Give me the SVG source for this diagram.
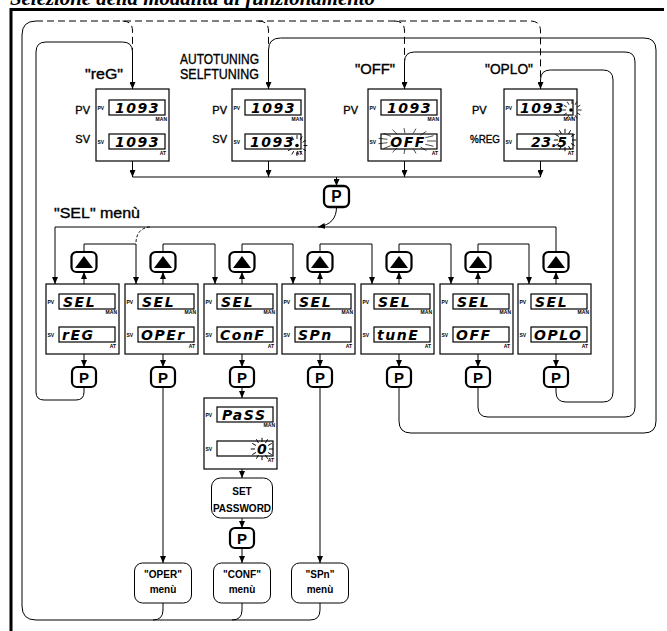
<svg xmlns="http://www.w3.org/2000/svg" xmlns:xlink="http://www.w3.org/1999/xlink" width="667" height="631" viewBox="0 0 667 631">
<style>
.box{fill:#fff;stroke:#000;stroke-width:1.2}
.disp{fill:#fff;stroke:#000;stroke-width:1.2}
.dt{font-family:"DejaVu Sans",sans-serif;font-weight:bold;font-style:italic;font-size:14px;letter-spacing:1.5px;fill:#000}
.tiny{font-family:"Liberation Sans",sans-serif;font-size:5px;font-weight:bold;fill:#000}
.lbl{font-family:"Liberation Sans",sans-serif;font-size:11px;fill:#000;stroke:#000;stroke-width:0.35}
.big{font-family:"Liberation Sans",sans-serif;font-size:14px;fill:#000;stroke:#000;stroke-width:0.35}
.mt{font-family:"Liberation Sans",sans-serif;font-size:10px;font-weight:bold;fill:#000;text-anchor:middle}
.btn{fill:#fff;stroke:#000;stroke-width:2.2}
.pt{font-family:"Liberation Sans",sans-serif;font-weight:bold;font-size:15px;text-anchor:middle;fill:#000}
.c{fill:none;stroke:#000;stroke-width:1}
.a{fill:none;stroke:#000;stroke-width:1;marker-end:url(#ah)}
.dash{fill:none;stroke:#000;stroke-width:1;stroke-dasharray:7 4}
.ray{fill:none;stroke:#000;stroke-width:0.7}
.mb{fill:#fff;stroke:#000;stroke-width:1}
</style>
<defs>
<marker id="ah" viewBox="0 0 7 6" refX="7" refY="3" markerWidth="7" markerHeight="6" markerUnits="userSpaceOnUse" orient="auto"><path d="M0,0 L7,3 L0,6 z" fill="#000"/></marker>
<g id="pb"><rect x="-12" y="0" width="24" height="20" rx="5" class="btn"/><text x="0" y="15.5" class="pt">P</text></g>
<g id="ub"><rect x="-12.5" y="0" width="25" height="20" rx="5" class="btn"/><path d="M-9,16 L9,16 L0,4 z" fill="#000"/></g>
<path id="rays" class="ray" d="M5,0L8,0M4.33,2.5L6.93,4M2.5,4.33L4,6.93M0,5L0,8M-2.5,4.33L-4,6.93M-4.33,2.5L-6.93,4M-5,0L-8,0M-4.33,-2.5L-6.93,-4M-2.5,-4.33L-4,-6.93M0,-5L0,-8M2.5,-4.33L4,-6.93M4.33,-2.5L6.93,-4"/>
</defs>
<rect width="667" height="631" fill="#fff"/>
<text x="10" y="5" font-family="Liberation Serif,serif" font-style="italic" font-weight="bold" font-size="20" textLength="365" lengthAdjust="spacingAndGlyphs">Selezione della modalità di funzionamento</text>
<path d="M11,631 V9.5 H664" fill="none" stroke="#000" stroke-width="3"/>

<g id="connectors">
<path class="c" d="M84,387 V392 Q84,400 76,400 H44 Q36,400 36,392 V52 Q36,42 46,42 H122.5 Q132.5,42 132.5,52"/>
<path class="a" d="M132.5,52 V89"/>
<path class="a" d="M399,387 V421 Q399,433 411,433 H644 Q656,433 656,421 V50 Q656,38 644,38 H280.5 Q268.5,38 268.5,50 V89"/>
<path class="a" d="M478,387 V407 Q478,417 488,417 H625 Q635,417 635,407 V62 Q635,52 625,52 H414.5 Q404.5,52 404.5,62 V89"/>
<path class="a" d="M556,387 V392 Q556,402 566,402 H603 Q613,402 613,392 V80 Q613,70 603,70 H550.5 Q540.5,70 540.5,80 V89"/>
<path class="c" d="M320,603 V610 Q320,620 310,620 H36 Q22,620 22,606 V35 Q22,21 36,21"/>
<path class="c" d="M163,603 V610 Q163,620 153,620"/>
<path class="c" d="M242,603 V610 Q242,620 232,620"/>
<path class="dash" d="M36,21 H530.5 Q540.5,21 540.5,31 V82"/>
<path class="dash" d="M122.5,21 Q132.5,21 132.5,31 V50"/>
<path class="dash" d="M258.5,21 Q268.5,21 268.5,31 V46"/>
<path class="dash" d="M394.5,21 Q404.5,21 404.5,31 V60"/>
<path class="a" d="M132.5,161 V177"/>
<path class="a" d="M268.5,161 V177"/>
<path class="a" d="M404.5,161 V177"/>
<path class="a" d="M540.5,161 V177"/>
<path class="c" d="M132.5,177 H540.5"/>
<path class="a" d="M336.5,177 V186"/>
<path class="a" d="M336.5,207 C336.5,218 331,225 318,227"/>
<path class="a" d="M556,252 V227 H55 V284"/>
<path class="dash" style="stroke-dasharray:3 2" d="M150,227 Q137,228 136,242"/>
<path class="a" d="M84,252 V244 H136 V284"/>
<path class="a" d="M163,252 V244 H215 V284"/>
<path class="a" d="M242,252 V244 H293 V284"/>
<path class="a" d="M320,252 V244 H372 V284"/>
<path class="a" d="M399,252 V244 H451 V284"/>
<path class="a" d="M478,252 V244 H529 V284"/>
<path class="a" d="M84,284 V272"/>
<path class="a" d="M163,284 V272"/>
<path class="a" d="M242,284 V272"/>
<path class="a" d="M320,284 V272"/>
<path class="a" d="M399,284 V272"/>
<path class="a" d="M478,284 V272"/>
<path class="a" d="M556,284 V272"/>
<path class="a" d="M84,354 V367"/>
<path class="a" d="M163,354 V367"/>
<path class="a" d="M242,354 V367"/>
<path class="a" d="M320,354 V367"/>
<path class="a" d="M399,354 V367"/>
<path class="a" d="M478,354 V367"/>
<path class="a" d="M556,354 V367"/>
<path class="a" d="M242,387 V398"/>
<path class="a" d="M242,469 V478"/>
<path class="a" d="M242,518 V528"/>
<path class="a" d="M242,548 V563"/>
<path class="a" d="M163,387 V563"/>
<path class="a" d="M320,387 V563"/>
</g>

<g id="labels">
<text x="85" y="79" class="big" textLength="38" lengthAdjust="spacingAndGlyphs">"reG"</text>
<text x="180" y="64" class="big" textLength="79" lengthAdjust="spacingAndGlyphs">AUTOTUNING</text>
<text x="180" y="79" class="big" textLength="79" lengthAdjust="spacingAndGlyphs">SELFTUNING</text>
<text x="355" y="74" class="big" textLength="40" lengthAdjust="spacingAndGlyphs">"OFF"</text>
<text x="485" y="74" class="big" textLength="48" lengthAdjust="spacingAndGlyphs">"OPLO"</text>
<text x="54" y="218" class="big" font-size="13" textLength="86" lengthAdjust="spacingAndGlyphs">"SEL"  menù</text>
</g>

<g id="top-reg">
<text x="90" y="114" class="lbl" text-anchor="end">PV</text>
<text x="90" y="143" class="lbl" text-anchor="end">SV</text>
<rect x="96" y="89" width="73" height="72" class="box"/>
<rect x="109" y="100" width="56" height="15" class="disp"/>
<rect x="109" y="134" width="56" height="15" class="disp"/>
<text x="97.5" y="109.5" class="tiny">PV</text><text x="97.5" y="143.5" class="tiny">SV</text>
<text x="167" y="120.5" class="tiny" text-anchor="end">MAN</text><text x="166" y="155" class="tiny" text-anchor="end">AT</text>
<text x="115" y="112.5" class="dt">1093</text><text x="115" y="146.5" class="dt">1093</text>
</g>
<g id="top-tune">
<text x="227" y="114" class="lbl" text-anchor="end">PV</text>
<text x="227" y="143" class="lbl" text-anchor="end">SV</text>
<rect x="232" y="89" width="73" height="72" class="box"/>
<rect x="245" y="100" width="56" height="15" class="disp"/>
<rect x="245" y="134" width="56" height="15" class="disp"/>
<text x="233.5" y="109.5" class="tiny">PV</text><text x="233.5" y="143.5" class="tiny">SV</text>
<text x="303" y="120.5" class="tiny" text-anchor="end">MAN</text><text x="302" y="155" class="tiny" text-anchor="end">AT</text>
<text x="251" y="112.5" class="dt">1093</text><text x="250" y="146.5" class="dt">1093</text>
<circle cx="297" cy="145.5" r="1.8" fill="#000"/>
<use xlink:href="#rays" transform="translate(297,145.5) scale(1.3)"/>
</g>
<g id="top-off">
<text x="358" y="114" class="lbl" text-anchor="end">PV</text>
<rect x="368" y="89" width="73" height="72" class="box"/>
<rect x="381" y="100" width="56" height="15" class="disp"/>
<rect x="381" y="134" width="56" height="15" class="disp"/>
<text x="369.5" y="109.5" class="tiny">PV</text><text x="369.5" y="143.5" class="tiny">SV</text>
<text x="439" y="120.5" class="tiny" text-anchor="end">MAN</text><text x="438" y="155" class="tiny" text-anchor="end">AT</text>
<text x="387" y="112.5" class="dt">1093</text><text x="408" y="146.5" class="dt" text-anchor="middle">OFF</text>
<path class="ray" transform="translate(407,141)" d="M20,0L29,0M18.3,3.3L26.5,5.3M13.4,5.9L19.4,9.7M6.2,7.6L9,12.4M-2.1,8L-3,12.9M-10,6.9L-14.5,11.3M-16.2,4.7L-23.5,7.6M-19.6,1.7L-28.4,2.7M-19.6,-1.7L-28.4,-2.7M-16.2,-4.7L-23.5,-7.6M-10,-6.9L-14.5,-11.3M-2.1,-8L-3,-12.9M6.2,-7.6L9,-12.4M13.4,-5.9L19.4,-9.7M18.3,-3.3L26.5,-5.3"/>
</g>
<g id="top-oplo">
<text x="472" y="114" class="lbl">PV</text>
<text x="470" y="143" class="lbl" textLength="30" lengthAdjust="spacingAndGlyphs">%REG</text>
<rect x="504" y="89" width="73" height="72" class="box"/>
<rect x="517" y="100" width="56" height="15" class="disp"/>
<rect x="517" y="134" width="56" height="15" class="disp"/>
<text x="505.5" y="109.5" class="tiny">PV</text><text x="505.5" y="143.5" class="tiny">SV</text>
<text x="575" y="120.5" class="tiny" text-anchor="end">MAN</text><text x="574" y="155" class="tiny" text-anchor="end">AT</text>
<text x="520" y="112.5" class="dt">1093</text><text x="531" y="146.5" class="dt" style="letter-spacing:0.5px">23.5</text>
<circle cx="571" cy="110" r="1.8" fill="#000"/>
<use xlink:href="#rays" transform="translate(572,110) scale(1.2)"/>
<use xlink:href="#rays" transform="translate(565,140) scale(1.4)"/>
</g>
<g id="top-p"><use xlink:href="#pb" transform="translate(336.5,186) scale(1.04,1.05)"/></g>

<g id="sel-reg">
<rect x="46" y="284" width="73" height="70" class="box"/>
<rect x="59" y="294" width="56" height="15" class="disp"/><rect x="59" y="327" width="56" height="15" class="disp"/>
<text x="47.5" y="303.5" class="tiny">PV</text><text x="47.5" y="336.5" class="tiny">SV</text>
<text x="117" y="314" class="tiny" text-anchor="end">MAN</text><text x="116" y="347.5" class="tiny" text-anchor="end">AT</text>
<text x="63" y="306.5" class="dt">SEL</text><text x="62" y="339.5" class="dt">rEG</text>
</g>
<g id="sel-oper">
<rect x="125" y="284" width="73" height="70" class="box"/>
<rect x="138" y="294" width="56" height="15" class="disp"/><rect x="138" y="327" width="56" height="15" class="disp"/>
<text x="126.5" y="303.5" class="tiny">PV</text><text x="126.5" y="336.5" class="tiny">SV</text>
<text x="196" y="314" class="tiny" text-anchor="end">MAN</text><text x="195" y="347.5" class="tiny" text-anchor="end">AT</text>
<text x="142" y="306.5" class="dt">SEL</text><text x="141" y="339.5" class="dt">OPEr</text>
</g>
<g id="sel-conf">
<rect x="204" y="284" width="73" height="70" class="box"/>
<rect x="217" y="294" width="56" height="15" class="disp"/><rect x="217" y="327" width="56" height="15" class="disp"/>
<text x="205.5" y="303.5" class="tiny">PV</text><text x="205.5" y="336.5" class="tiny">SV</text>
<text x="275" y="314" class="tiny" text-anchor="end">MAN</text><text x="274" y="347.5" class="tiny" text-anchor="end">AT</text>
<text x="221" y="306.5" class="dt">SEL</text><text x="220" y="339.5" class="dt">ConF</text>
</g>
<g id="sel-spn">
<rect x="282" y="284" width="73" height="70" class="box"/>
<rect x="295" y="294" width="56" height="15" class="disp"/><rect x="295" y="327" width="56" height="15" class="disp"/>
<text x="283.5" y="303.5" class="tiny">PV</text><text x="283.5" y="336.5" class="tiny">SV</text>
<text x="353" y="314" class="tiny" text-anchor="end">MAN</text><text x="352" y="347.5" class="tiny" text-anchor="end">AT</text>
<text x="299" y="306.5" class="dt">SEL</text><text x="298" y="339.5" class="dt">SPn</text>
</g>
<g id="sel-tune">
<rect x="361" y="284" width="73" height="70" class="box"/>
<rect x="374" y="294" width="56" height="15" class="disp"/><rect x="374" y="327" width="56" height="15" class="disp"/>
<text x="362.5" y="303.5" class="tiny">PV</text><text x="362.5" y="336.5" class="tiny">SV</text>
<text x="432" y="314" class="tiny" text-anchor="end">MAN</text><text x="431" y="347.5" class="tiny" text-anchor="end">AT</text>
<text x="378" y="306.5" class="dt">SEL</text><text x="377" y="339.5" class="dt">tunE</text>
</g>
<g id="sel-off">
<rect x="440" y="284" width="73" height="70" class="box"/>
<rect x="453" y="294" width="56" height="15" class="disp"/><rect x="453" y="327" width="56" height="15" class="disp"/>
<text x="441.5" y="303.5" class="tiny">PV</text><text x="441.5" y="336.5" class="tiny">SV</text>
<text x="511" y="314" class="tiny" text-anchor="end">MAN</text><text x="510" y="347.5" class="tiny" text-anchor="end">AT</text>
<text x="457" y="306.5" class="dt">SEL</text><text x="456" y="339.5" class="dt">OFF</text>
</g>
<g id="sel-oplo">
<rect x="518" y="284" width="73" height="70" class="box"/>
<rect x="531" y="294" width="56" height="15" class="disp"/><rect x="531" y="327" width="56" height="15" class="disp"/>
<text x="519.5" y="303.5" class="tiny">PV</text><text x="519.5" y="336.5" class="tiny">SV</text>
<text x="589" y="314" class="tiny" text-anchor="end">MAN</text><text x="588" y="347.5" class="tiny" text-anchor="end">AT</text>
<text x="535" y="306.5" class="dt">SEL</text><text x="534" y="339.5" class="dt">OPLO</text>
</g>

<g id="up-buttons">
<use xlink:href="#ub" transform="translate(84,252)"/>
<use xlink:href="#ub" transform="translate(163,252)"/>
<use xlink:href="#ub" transform="translate(242,252)"/>
<use xlink:href="#ub" transform="translate(320,252)"/>
<use xlink:href="#ub" transform="translate(399,252)"/>
<use xlink:href="#ub" transform="translate(478,252)"/>
<use xlink:href="#ub" transform="translate(556,252)"/>
</g>
<g id="p-buttons">
<use xlink:href="#pb" transform="translate(84,367)"/>
<use xlink:href="#pb" transform="translate(163,367)"/>
<use xlink:href="#pb" transform="translate(242,367)"/>
<use xlink:href="#pb" transform="translate(320,367)"/>
<use xlink:href="#pb" transform="translate(399,367)"/>
<use xlink:href="#pb" transform="translate(478,367)"/>
<use xlink:href="#pb" transform="translate(556,367)"/>
</g>

<g id="pass-box">
<rect x="204" y="398" width="73" height="71" class="box"/>
<rect x="217" y="407" width="56" height="15" class="disp"/><rect x="217" y="441" width="56" height="15" class="disp"/>
<text x="205.5" y="416.5" class="tiny">PV</text><text x="205.5" y="450.5" class="tiny">SV</text>
<text x="275" y="427" class="tiny" text-anchor="end">MAN</text><text x="274" y="462" class="tiny" text-anchor="end">AT</text>
<text x="222" y="419.5" class="dt">PaSS</text><text x="257" y="453.5" class="dt">0</text>
<use xlink:href="#rays" transform="translate(262,449) scale(1.4)"/>
</g>
<g id="set-password">
<rect x="211.5" y="478" width="61" height="40" rx="9" class="mb"/>
<text x="242" y="494.5" class="mt">SET</text>
<text x="242" y="511.5" class="mt">PASSWORD</text>
</g>
<g id="pass-p"><use xlink:href="#pb" transform="translate(242,528)"/></g>

<g id="menu-oper">
<rect x="134.5" y="563" width="57" height="40" rx="8" class="mb"/>
<text x="163" y="578" class="mt">"OPER"</text><text x="163" y="593" class="mt">menù</text>
</g>
<g id="menu-conf">
<rect x="213.5" y="563" width="57" height="40" rx="8" class="mb"/>
<text x="242" y="578" class="mt">"CONF"</text><text x="242" y="593" class="mt">menù</text>
</g>
<g id="menu-spn">
<rect x="291.5" y="563" width="57" height="40" rx="8" class="mb"/>
<text x="320" y="578" class="mt">"SPn"</text><text x="320" y="593" class="mt">menù</text>
</g>
</svg>
